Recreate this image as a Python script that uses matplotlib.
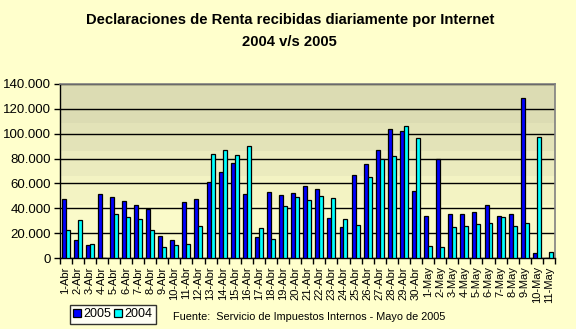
import matplotlib.pyplot as plt
import numpy as np
from matplotlib.ticker import FuncFormatter, MultipleLocator

plt.rcParams["font.family"] = ["Liberation Sans", "DejaVu Sans"]

# dias del periodo de declaracion
dias = [f"{d}-Abr" for d in range(1, 31)] + [f"{d}-May" for d in range(1, 12)]

# declaraciones recibidas por dia
renta_2005 = [47300, 14500, 10200, 51600, 49200, 45900, 42500, 39500, 17700, 14500,
              45100, 47300, 61000, 69100, 76300, 51300, 16700, 52900, 50500, 52100,
              57800, 55400, 32000, 24700, 66600, 75500, 86800, 104000, 102100, 53700,
              33600, 79500, 35200, 35200, 36800, 42500, 33600, 35200, 128700, 3800, 0]
renta_2004 = [22600, 30400, 11000, 0, 35200, 32800, 31200, 22600, 8600, 10200,
              11000, 25500, 83600, 86800, 82800, 90000, 23900, 15000, 41700, 48900,
              46500, 49700, 48100, 31200, 26300, 65000, 79500, 82200, 106400, 96700,
              9400, 8600, 24700, 25500, 27100, 27900, 32800, 25500, 27900, 97300, 4600]

BG = "#FFFFCC"
AZUL = "#0000FF"
CIAN = "#00FFFF"


def miles(v, pos):
    return f"{int(v):,}".replace(",", ".")


fig = plt.figure(figsize=(5.76, 3.29), dpi=100, facecolor=BG)
ax = fig.add_axes([0.1033, 0.2158, 0.8602, 0.5289])
ax.set_facecolor(BG)

# fondo degradado por franjas, mas oscuro arriba
franjas = np.array([0, 42700, 66300, 85700, 109000, 140000])
tonos = ["#FAFAC9", "#F3F3C3", "#EBEBBE", "#E3E3B8", "#DCDCB3"]
n = len(dias)
for (y0, y1), c in zip(zip(franjas[:-1], franjas[1:]), tonos):
    ax.axhspan(y0, y1, color=c, lw=0, zorder=0)

x = np.arange(n)
w = 0.33
ax.bar(x - w / 2, renta_2005, w, color=AZUL, edgecolor="black", linewidth=0.9,
       label="2005", zorder=3)
ax.bar(x + w / 2, renta_2004, w, color=CIAN, edgecolor="black", linewidth=0.9,
       label="2004", zorder=3)

ax.set_xlim(-0.5, n - 0.5)
ax.set_ylim(0, 140000)
ax.yaxis.set_major_locator(MultipleLocator(20000))
ax.yaxis.set_major_formatter(FuncFormatter(miles))
ax.grid(axis="y", color="black", linewidth=1, zorder=1)
ax.set_axisbelow(True)

ax.set_xticks(x)
ax.set_xticklabels(dias, rotation=90, fontsize=8)
ax.set_xticks(np.arange(n + 1) - 0.5, minor=True)
ax.tick_params(axis="x", which="major", length=0, pad=6)
ax.tick_params(axis="x", which="minor", length=4, width=1, color="black")
ax.tick_params(axis="y", length=4, width=1, labelsize=9.5, pad=2)

for s in ["top", "right"]:
    ax.spines[s].set_color("#808080")
    ax.spines[s].set_linewidth(1.2)
for s in ["left", "bottom"]:
    ax.spines[s].set_color("black")
    ax.spines[s].set_linewidth(1)

fig.text(0.503, 0.938, "Declaraciones de Renta recibidas diariamente por Internet",
         ha="center", va="center", fontsize=10.6, fontweight="bold")
fig.text(0.503, 0.873, "2004 v/s 2005", ha="center", va="center",
         fontsize=10.6, fontweight="bold")

leg = fig.legend(loc="lower left", bbox_to_anchor=(0.121, 0.015), ncol=2,
                 fontsize=9, frameon=True, fancybox=False, handlelength=0.6,
                 handleheight=0.6, handletextpad=0.15, columnspacing=0.3,
                 borderpad=0.3, borderaxespad=0)
leg.get_frame().set_edgecolor("black")
leg.get_frame().set_facecolor("white")
leg.get_frame().set_linewidth(1)

fig.text(0.3, 0.037, "Fuente:  Servicio de Impuestos Internos - Mayo de 2005",
         ha="left", va="center", fontsize=7.8)

fig.savefig("out.png", dpi=100, facecolor=BG)
